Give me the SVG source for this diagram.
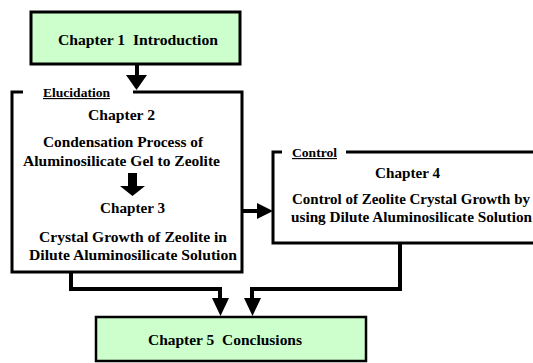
<svg xmlns="http://www.w3.org/2000/svg" width="533" height="363" viewBox="0 0 533 363">
<style>
.t{font-size:14px;fill:#000;text-anchor:middle;white-space:pre}
.lab{font-size:11.5px;fill:#000;text-decoration:underline}
.green{fill:#ccffcc;stroke:#000;stroke-width:3}
.frame{fill:none;stroke:#000;stroke-width:3}
.conn{fill:none;stroke:#000;stroke-width:4;stroke-linecap:round;stroke-linejoin:miter}
.head{fill:#000}
</style>
<rect width="533" height="363" fill="#fff"/>
<g font-family="Liberation Serif, DejaVu Serif, serif" font-weight="bold">
<g id="ch1">
<rect class="green" x="31" y="12" width="209" height="52"/>
<text class="t" x="138" y="45" textLength="160" lengthAdjust="spacingAndGlyphs" xml:space="preserve">Chapter 1  Introduction</text>
</g>
<g id="elucidation">
<polyline class="frame" points="23,92 12,92 12,272 242,272 242,92 133,92"/>
<text class="lab" x="43" y="97" textLength="67" lengthAdjust="spacingAndGlyphs">Elucidation</text>
<text class="t" x="121.5" y="120" textLength="67" lengthAdjust="spacingAndGlyphs">Chapter 2</text>
<text class="t" x="123" y="147" textLength="160" lengthAdjust="spacingAndGlyphs">Condensation Process of</text>
<text class="t" x="121.5" y="166" textLength="197" lengthAdjust="spacingAndGlyphs">Aluminosilicate Gel to Zeolite</text>
<polygon class="head" points="128,173 137,173 137,186 145,186 132.5,196 120,186 128,186"/>
<text class="t" x="132.5" y="213" textLength="65" lengthAdjust="spacingAndGlyphs">Chapter 3</text>
<text class="t" x="133" y="242" textLength="188" lengthAdjust="spacingAndGlyphs">Crystal Growth of Zeolite in</text>
<text class="t" x="133" y="260" textLength="208" lengthAdjust="spacingAndGlyphs">Dilute Aluminosilicate Solution</text>
</g>
<g id="control">
<polyline class="frame" points="282,152 273,152 273,243 540,243"/>
<line class="frame" x1="346" y1="152" x2="540" y2="152"/>
<text class="lab" x="292" y="157" textLength="45" lengthAdjust="spacingAndGlyphs">Control</text>
<text class="t" x="407.5" y="178" textLength="65" lengthAdjust="spacingAndGlyphs">Chapter 4</text>
<text class="t" x="411" y="204" textLength="238" lengthAdjust="spacingAndGlyphs">Control of Zeolite Crystal Growth by</text>
<text class="t" x="411.5" y="222" textLength="241" lengthAdjust="spacingAndGlyphs">using Dilute Aluminosilicate Solution</text>
</g>
<g id="ch5">
<rect x="96" y="317" width="270" height="44" fill="#ccffcc" stroke="#000" stroke-width="2.5"/>
<text class="t" x="225" y="345" textLength="154" lengthAdjust="spacingAndGlyphs" xml:space="preserve">Chapter 5  Conclusions</text>
</g>
</g>
<g id="connectors">
<line class="conn" x1="137" y1="65" x2="137" y2="76" style="stroke-linecap:butt"/>
<polygon class="head" points="126,75 147,75 136.5,90"/>
<line class="conn" x1="243" y1="211" x2="258" y2="211"/>
<polygon class="head" points="257,203 273,211 257,219"/>
<polyline class="conn" points="71,273 71,289 220,289 220,300"/>
<polygon class="head" points="212,298 229,298 220.5,316"/>
<polyline class="conn" points="400,244 400,289 252,289 252,300"/>
<polygon class="head" points="244,298 261,298 252.5,316"/>
</g>
</svg>
